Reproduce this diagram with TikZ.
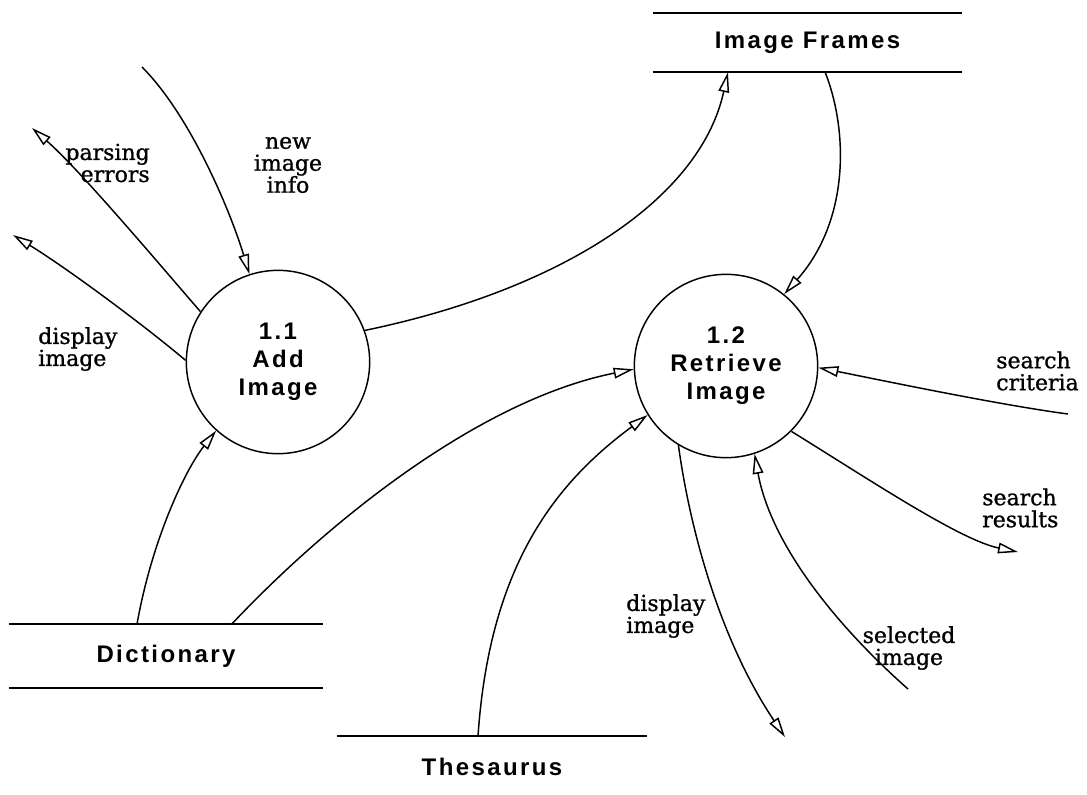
\documentclass[tikz,border=0pt]{standalone}
\usepackage{fontspec}
\newfontfamily\dfdsans[LetterSpace=10]{Liberation Sans}
\newfontfamily\dfdserif[FakeBold=1]{DejaVu Serif}
\usetikzlibrary{arrows.meta,calc}
\begin{document}
\begin{tikzpicture}[x=0.75pt,y=-0.75pt,
  proc/.style={circle,draw,line width=1.1pt,minimum size=137.5pt,inner sep=0pt,align=center,
    font=\dfdsans\bfseries\fontsize{18pt}{21pt}\selectfont},
  store/.style={inner sep=0pt,font=\dfdsans\bfseries\fontsize{18pt}{21pt}\selectfont},
  sline/.style={line width=1.6pt},
  flow/.style={line width=1.1pt,-{Triangle[open,length=15pt,width=8pt,line width=1.1pt]}},
  lbl/.style={font=\dfdserif\fontsize{16.5pt}{16.5pt}\selectfont,inner sep=0pt}]
\useasboundingbox (0,0) rectangle (1087,794);

% processes
\node[proc] (c1) at (278,362) {1.1\\Add\\Image};
\node[proc] (c2) at (726,366) {1.2\\Retrieve\\Image};

% data stores
\node[store,minimum width=231.75pt,minimum height=44.25pt] (IF) at (807.5,42.5) {Image Frames};
\draw[sline] (IF.north west) -- (IF.north east);
\draw[sline] (IF.south west) -- (IF.south east);
\node[store,minimum width=235.5pt,minimum height=48pt] (D) at (166,656) {Dictionary};
\draw[sline] (D.north west) -- (D.north east);
\draw[sline] (D.south west) -- (D.south east);
\node[store,minimum width=232.5pt,minimum height=46.5pt] (T) at (492,767) {Thesaurus};
\draw[sline] (T.north west) -- (T.north east);

% attachment points
\coordinate (IFin) at ($(IF.south west)!0.243!(IF.south east)$);
\coordinate (IFout) at ($(IF.south west)!0.557!(IF.south east)$);
\coordinate (Dout1) at ($(D.north west)!0.408!(D.north east)$);
\coordinate (Dout2) at ($(D.north west)!0.71!(D.north east)$);
\coordinate (Tout) at ($(T.north west)!0.455!(T.north east)$);

% free ends
\coordinate (nii) at (142,67);
\coordinate (pe) at (32,128);
\coordinate (dl) at (13,235);
\coordinate (dr) at (785,737);
\coordinate (si) at (908,689);
\coordinate (sc) at (1068,414);
\coordinate (sr) at (1018,552);

% flows
\draw[flow] (c1.20) .. controls (560,290) and (700,200) .. (IFin);
\draw[flow] (IFout) .. controls (848,130) and (850,220) .. (c2.51);
\draw[flow] (nii) .. controls (190,115) and (230,210) .. (c1.108);
\draw[flow] (c1.147) .. controls (160,265) and (80,170) .. (pe);
\draw[flow] (c1.179) .. controls (150,330) and (70,270) .. (dl);
\draw[flow] (Dout1) .. controls (152,540) and (185,470) .. (c1.228);
\draw[flow] (Dout2) .. controls (330,520) and (480,400) .. (c2.182);
\draw[flow] (Tout) .. controls (490,560) and (560,480) .. (c2.212);
\draw[flow] (c2.239) .. controls (690,530) and (720,640) .. (dr);
\draw[flow] (si) .. controls (830,620) and (770,540) .. (c2.288);
\draw[flow] (sc) .. controls (1000,405) and (880,380) .. (c2.359);
\draw[flow] (c2.315) .. controls (870,480) and (960,540) .. (sr);

% labels
\node[lbl,align=right,anchor=east] (lpe) at (150,163) {parsing\\errors};
\node[lbl,align=center] (lnii) at (288,165) {new\\image\\info};
\node[lbl,align=left,anchor=west] (ldl) at (38,349) {display\\image};
\node[lbl,align=left,anchor=west] (ldr) at (626,616) {display\\image};
\node[lbl,align=center] (lsi) at (909,648) {selected\\image};
\node[lbl,align=left,anchor=west] (lsc) at (996,371) {search\\criteria};
\node[lbl,align=left,anchor=west] (lsr) at (982,508) {search\\results};
\end{tikzpicture}
\end{document}
